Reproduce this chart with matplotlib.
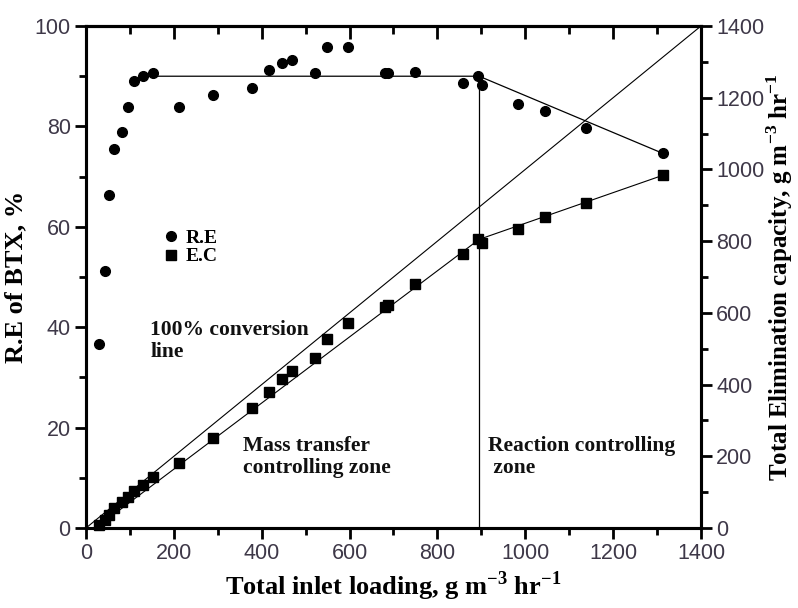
import matplotlib
matplotlib.use("Agg")
import matplotlib.pyplot as plt
from matplotlib.lines import Line2D
from matplotlib.ticker import MultipleLocator

# ------------------ dados ---------------------------------------
loading = [30, 43, 52, 64, 83, 96, 110, 130, 153, 212, 288, 379, 416, 447, 469,
           522, 549, 596, 681, 688, 749, 859, 892, 901, 984, 1045, 1138, 1314]
re_btx = [36.6, 51.2, 66.3, 75.6, 78.8, 83.9, 89.1, 90.0, 90.6, 83.9, 86.3, 87.6,
          91.2, 92.6, 93.2, 90.7, 95.8, 95.8, 90.7, 90.7, 90.8, 88.6, 90.0, 88.2,
          84.4, 83.1, 79.7, 74.8]
ec_total = [8, 22, 36, 55, 72, 87, 104, 120, 143, 180, 250, 334, 380, 416, 439,
            473, 526, 571, 616, 623, 680, 764, 805, 795, 833, 868, 906, 984]

re_fit_x = [157, 895, 1314]
re_fit_y = [90.0, 90.0, 74.6]
ec_fit_x = [22, 895, 1314]
ec_fit_y = [0, 805, 984]
conv_x = [0, 1400]
conv_y = [0, 1400]
zona_x = [895, 895]
zona_y = [0, 90.0]

serif = "Liberation Serif"
sans = "Liberation Sans"
cor_tick = "#3e3848"

plt.rcParams["mathtext.fontset"] = "custom"
plt.rcParams["mathtext.rm"] = serif
plt.rcParams["mathtext.bf"] = serif + ":bold"

fig = plt.figure(figsize=(7.98, 6.08), dpi=100)
ax = fig.add_axes([0.1078, 0.1316, 0.7706, 0.8256])
ax2 = ax.twinx()

# linhas
ax.plot(re_fit_x, re_fit_y, color="k", lw=0.9)
ax.plot(zona_x, zona_y, color="k", lw=0.9)
ax2.plot(conv_x, conv_y, color="k", lw=0.8)
ax2.plot(ec_fit_x, ec_fit_y, color="k", lw=0.8)

# pontos
ax.plot(loading, re_btx, "o", color="k", markersize=7, clip_on=False)
ax2.plot(loading, ec_total, "s", color="k", markersize=6.5, clip_on=False)

ax.set_xlim(0, 1400)
ax.set_ylim(0, 100)
ax2.set_ylim(0, 1400)

ax.xaxis.set_major_locator(MultipleLocator(200))
ax.xaxis.set_minor_locator(MultipleLocator(100))
ax.yaxis.set_major_locator(MultipleLocator(20))
ax.yaxis.set_minor_locator(MultipleLocator(10))
ax2.yaxis.set_major_locator(MultipleLocator(200))
ax2.yaxis.set_minor_locator(MultipleLocator(100))

for a in (ax, ax2):
    for s in a.spines.values():
        s.set_linewidth(2.2)

ax.tick_params(which="major", direction="out", length=8, width=2, labelsize=15.5,
               labelcolor=cor_tick, pad=3)
ax.tick_params(which="minor", direction="out", length=5, width=2)
ax2.tick_params(which="major", direction="out", length=8, width=2, labelsize=15.5,
                labelcolor=cor_tick, pad=3)
ax2.tick_params(which="minor", direction="out", length=5, width=2)

topo = ax.secondary_xaxis("top")
topo.xaxis.set_major_locator(MultipleLocator(200))
topo.xaxis.set_minor_locator(MultipleLocator(100))
topo.tick_params(which="major", direction="in", length=9, width=2, labeltop=False)
topo.tick_params(which="minor", direction="in", length=6, width=2)
topo.spines["top"].set_linewidth(2.2)

for lab in ax.get_xticklabels() + ax.get_yticklabels() + ax2.get_yticklabels():
    lab.set_fontfamily(sans)

ax.set_xlabel(r"Total inlet loading, g m$^{\mathbf{-3}}$ hr$^{\mathbf{-1}}$",
              fontfamily=serif, fontweight="bold", fontsize=19, labelpad=4)
ax.set_ylabel("R.E of BTX, %", fontfamily=serif, fontweight="bold", fontsize=19,
              labelpad=5)
ax2.set_ylabel(r"Total Elimination capacity, g m$^{\mathbf{-3}}$ hr$^{\mathbf{-1}}$",
               fontfamily=serif, fontweight="bold", fontsize=18, labelpad=0)

txt = dict(fontfamily=serif, fontweight="bold", fontsize=15.5, color="#111111",
           va="top", ha="left", linespacing=1.15)
ax.text(146, 41.5, "100% conversion\nline", **txt)
ax.text(357, 18.3, "Mass transfer\ncontrolling zone", **txt)
ax.text(915, 18.3, "Reaction controlling\n zone", **txt)

handles = [Line2D([], [], marker="o", ls="none", color="k", markersize=7),
           Line2D([], [], marker="s", ls="none", color="k", markersize=6.5)]
ax2.legend(handles, ["R.E", "E.C"], loc="center left", bbox_to_anchor=(0.125, 0.559),
           frameon=False, handlelength=0.8, handletextpad=0.35, labelspacing=0.05,
           borderpad=0, borderaxespad=0,
           prop={"family": serif, "weight": "bold", "size": 14})

fig.savefig("out.png", dpi=100)
